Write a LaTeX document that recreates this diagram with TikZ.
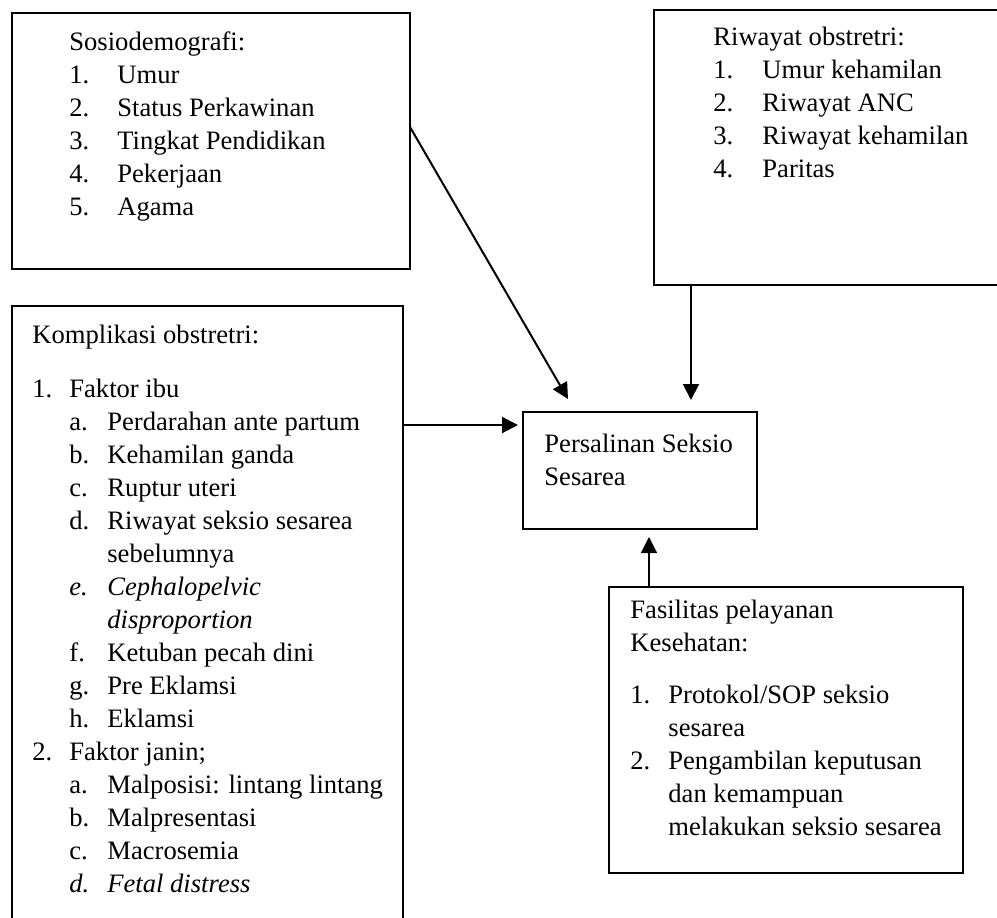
\documentclass[tikz,border=0pt]{standalone}
\usepackage{fontspec}
\setmainfont{Liberation Serif}
\usetikzlibrary{arrows.meta,fit,calc}
\begin{document}
\begin{tikzpicture}[x=0.5pt,y=-0.5pt,
  box/.style={draw, line width=0.9pt, inner sep=0pt, outer sep=0pt},
  txt/.style={anchor=base west, inner sep=0pt, align=left, font=\fontsize{13.3}{16.5}\selectfont},
  arr/.style={-{Triangle[length=8pt,width=8pt]}, line width=1pt},
]
\useasboundingbox (0,0) rectangle (997,917);
\clip (0,0) rectangle (997,917);
\node[box, fit={(12,13) (410,269)}] (b1) {};
\node[box, fit={(654,10) (1010,285)}] (b2) {};
\node[box, fit={(12,306) (403,940)}] (b3) {};
\node[box, line width=0.6pt, fit={(523,412) (757,529)}] (c) {};
\node[box, fit={(609,587) (963,873)}] (b4) {};

% base anchor of a multi-line node = baseline of its last line
\node[txt] (t1) at (69,215) {Sosiodemografi:\\
\makebox[24pt][l]{1.}Umur\\
\makebox[24pt][l]{2.}Status Perkawinan\\
\makebox[24pt][l]{3.}Tingkat Pendidikan\\
\makebox[24pt][l]{4.}Pekerjaan\\
\makebox[24pt][l]{5.}Agama};

\node[txt] (t2) at (713,177) {Riwayat obstretri:\\
\makebox[24.5pt][l]{1.}Umur kehamilan\\
\makebox[24.5pt][l]{2.}Riwayat ANC\\
\makebox[24.5pt][l]{3.}Riwayat kehamilan\\
\makebox[24.5pt][l]{4.}Paritas};

\node[txt] (t3) at (32,892) {Komplikasi obstretri:\\[10.5pt]
\makebox[18.5pt][l]{1.}Faktor ibu\\
\hspace*{18.5pt}\makebox[19pt][l]{a.}Perdarahan ante partum\\
\hspace*{18.5pt}\makebox[19pt][l]{b.}Kehamilan ganda\\
\hspace*{18.5pt}\makebox[19pt][l]{c.}Ruptur uteri\\
\hspace*{18.5pt}\makebox[19pt][l]{d.}Riwayat seksio sesarea\\
\hspace*{37.5pt}sebelumnya\\
\hspace*{18.5pt}\textit{\makebox[19pt][l]{e.}Cephalopelvic}\\
\hspace*{37.5pt}\textit{disproportion}\\
\hspace*{18.5pt}\makebox[19pt][l]{f.}Ketuban pecah dini\\
\hspace*{18.5pt}\makebox[19pt][l]{g.}Pre Eklamsi\\
\hspace*{18.5pt}\makebox[19pt][l]{h.}Eklamsi\\
\makebox[18.5pt][l]{2.}Faktor janin;\\
\hspace*{18.5pt}\makebox[19pt][l]{a.}Malposisi: lintang lintang\\
\hspace*{18.5pt}\makebox[19pt][l]{b.}Malpresentasi\\
\hspace*{18.5pt}\makebox[19pt][l]{c.}Macrosemia\\
\hspace*{18.5pt}\textit{\makebox[19pt][l]{d.}Fetal distress}};

\node[txt] (tc) at (544,485) {Persalinan Seksio\\Sesarea};

\node[txt] (t4) at (630,835) {Fasilitas pelayanan\\
Kesehatan:\\[9.5pt]
\makebox[19pt][l]{1.}Protokol/SOP seksio\\
\hspace*{19pt}sesarea\\
\makebox[19pt][l]{2.}Pengambilan keputusan\\
\hspace*{19pt}dan kemampuan\\
\hspace*{19pt}melakukan seksio sesarea};

\draw[arr] ([yshift=7pt]b1.east) -- ([xshift=22.5pt,yshift=6.5pt]c.north west);
\draw[arr] ([xshift=18.5pt]b2.south west) -- ([xshift=25.5pt,yshift=6pt]c.north);
\draw[arr] ([yshift=-59.5pt]b3.north east) -- ([xshift=-2.5pt,yshift=22.75pt]c.west);
\draw[arr, line width=0.6pt] ([xshift=20pt]b4.north west) -- ([xshift=4.5pt,yshift=-4pt]c.south);
\end{tikzpicture}
\end{document}
